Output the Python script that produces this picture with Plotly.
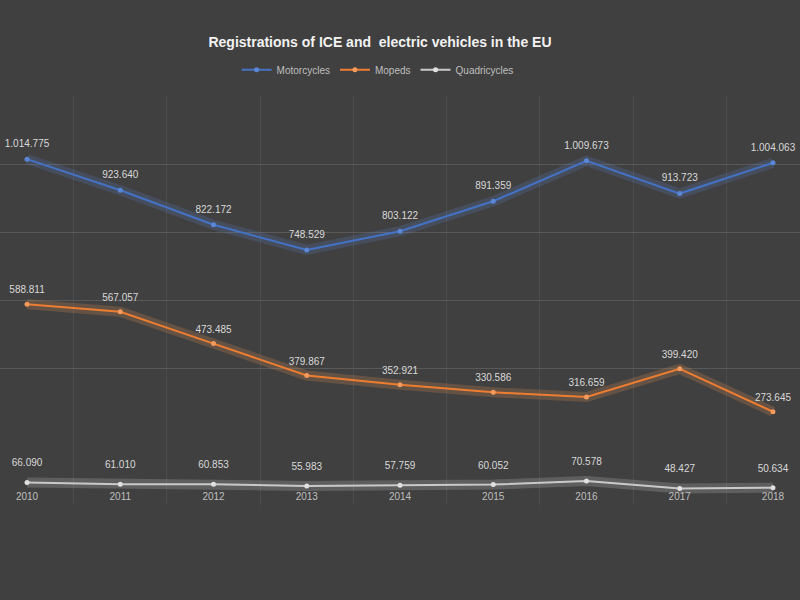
import plotly.graph_objects as go

years = ['2010', '2011', '2012', '2013', '2014', '2015', '2016', '2017', '2018']

motorcycles = [1014775, 923640, 822172, 748529, 803122, 891359, 1009673, 913723, 1004063]
mopeds = [588811, 567057, 473485, 379867, 352921, 330586, 316659, 399420, 273645]
quadricycles = [66090, 61010, 60853, 55983, 57759, 60052, 70578, 48427, 50634]

grid_vals = [400000, 600000, 800000, 1000000, 1200000]

series = [
    ('Motorcycles', motorcycles, '#4472C4', '#5b86d6', '#5f88d8', 14),
    ('Mopeds', mopeds, '#ED7D31', '#f39a5c', '#f59a55', 12),
    ('Quadricycles', quadricycles, '#c9c9c9', '#e0e0e0', '#d8d8d8', 20),
]


def fmt(v):
    return f'{v:,}'.replace(',', '.')


pos = list(range(len(years)))
FONT = 'Liberation Sans, Arial, sans-serif'

fig = go.Figure()

# soft glow behind each line
for name, vals, color, _, glow, _ in series:
    fig.add_trace(go.Scatter(x=pos, y=vals, mode='lines', line=dict(color=glow, width=10),
                             opacity=0.2, showlegend=False, hoverinfo='skip'))

for name, vals, color, mcolor, _, _ in series:
    fig.add_trace(go.Scatter(
        x=pos, y=vals, name=name, mode='lines+markers',
        line=dict(color=color, width=2),
        marker=dict(color=mcolor, size=5),
    ))

# data labels, lifted a bit above the points
for name, vals, _, _, _, gap in series:
    fig.add_trace(go.Scatter(
        x=pos, y=vals, mode='markers+text', showlegend=False, hoverinfo='skip',
        marker=dict(size=gap, color='rgba(0,0,0,0)'),
        text=[fmt(v) for v in vals], textposition='top center',
        textfont=dict(color='#d9d9d9', size=10, family=FONT),
        cliponaxis=False,
    ))

fig.update_layout(
    width=800, height=600,
    paper_bgcolor='#404040', plot_bgcolor='#404040',
    margin=dict(l=0, r=0, t=96, b=95),
    font=dict(family=FONT, color='#bfbfbf'),
    title=dict(text='<b>Registrations of ICE and  electric vehicles in the EU</b>',
               x=0.475, xanchor='center', y=0.93, yanchor='middle',
               font=dict(size=14, color='#f2f2f2', family=FONT)),
    legend=dict(orientation='h', x=0.472, xanchor='center', y=1.064, yanchor='middle',
                font=dict(size=10, color='#bfbfbf'), bgcolor='rgba(0,0,0,0)'),
    showlegend=True,
)

fig.update_xaxes(
    range=[-0.29, 8.29], tickvals=pos, ticktext=years,
    ticklabelposition='inside', tickfont=dict(size=10, color='#bfbfbf'),
    showgrid=False, zeroline=False, showline=False, ticks='',
    minor=dict(tick0=0.5, dtick=1, showgrid=True, gridcolor='#4c4c4c', gridwidth=1),
)
fig.update_yaxes(
    range=[0, 1200000], tickvals=grid_vals, showticklabels=False,
    showgrid=True, gridcolor='#595959', gridwidth=1, zeroline=False, showline=False,
)

fig.write_html('out.html', config={'displayModeBar': False},
               post_script="document.body.style.margin='0';document.body.style.overflow='hidden';")
